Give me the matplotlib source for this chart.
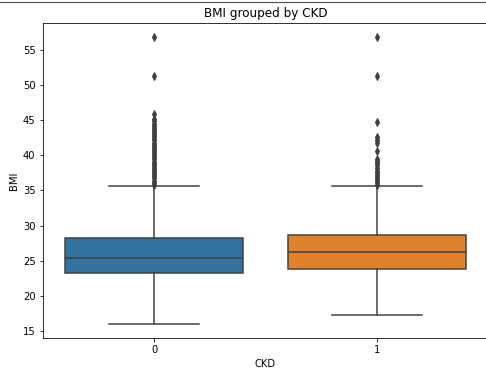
import matplotlib
matplotlib.use("Agg")
import matplotlib.pyplot as plt
from matplotlib.lines import Line2D

categories = ["0", "1"]
q1 = [23.2, 23.8]
median = [25.4, 26.2]
q3 = [28.2, 28.7]
whislo = [16.0, 17.3]
whishi = [35.6, 35.6]
fliers_0 = [56.8, 51.3, 45.8, 45.2, 44.8, 44.5, 44.2, 43.9, 43.6, 43.3, 43.0,
            42.7, 42.4, 42.1, 41.8, 41.5, 41.2, 40.9, 40.6, 40.3, 40.0, 39.7,
            39.4, 39.1, 38.8, 38.5, 38.2, 37.9, 37.6, 37.3, 37.0, 36.7, 36.4,
            36.1, 35.8]
fliers_1 = [56.8, 51.3, 44.7, 42.6, 42.2, 41.7, 40.6, 39.5, 39.2, 38.9, 38.6,
            38.2, 37.8, 37.5, 37.2, 36.9, 36.6, 36.3, 36.0, 35.8]
fliers = [fliers_0, fliers_1]
colors = ["#3274a1", "#e1812c"]
gray = "#3f3f3f"

fig = plt.figure(figsize=(486 / 72, 370 / 72), dpi=72)
ax = fig.add_axes([42.5 / 486, (370 - 338.3) / 370, 446 / 486, (338.3 - 22.7) / 370])

stats = []
for i, c in enumerate(categories):
    stats.append(dict(med=median[i], q1=q1[i], q3=q3[i], whislo=whislo[i],
                      whishi=whishi[i], fliers=fliers[i], label=c))

bp = ax.bxp(stats, positions=range(len(categories)), widths=0.8,
            patch_artist=True, showfliers=True,
            boxprops=dict(linewidth=1.5, edgecolor=gray),
            whiskerprops=dict(color=gray, linewidth=1.5),
            capprops=dict(color=gray, linewidth=1.5),
            medianprops=dict(color=gray, linewidth=1.5),
            flierprops=dict(marker="d", markerfacecolor=gray,
                            markeredgecolor=gray, markersize=5, linestyle="none"))
for patch, col in zip(bp["boxes"], colors):
    patch.set_facecolor(col)
# seaborn-style caps: half box width
for i, cap in enumerate(bp["caps"]):
    pos = i // 2
    cap.set_xdata([pos - 0.2, pos + 0.2])

ax.set_xlim(-0.5, 1.5)
ax.set_ylim(13.96, 58.84)
ax.set_yticks([15, 20, 25, 30, 35, 40, 45, 50, 55])
ax.set_xticks(range(len(categories)))
ax.set_xticklabels(categories)
ax.set_xlabel("CKD")
ax.set_ylabel("BMI")
ax.set_title("BMI grouped by CKD", fontsize=12)

fig.add_artist(Line2D([0, 1], [1 - 1.5 / 370, 1 - 1.5 / 370],
                      transform=fig.transFigure, color="#555555", linewidth=1.2))

fig.savefig("out.png", dpi=72)
